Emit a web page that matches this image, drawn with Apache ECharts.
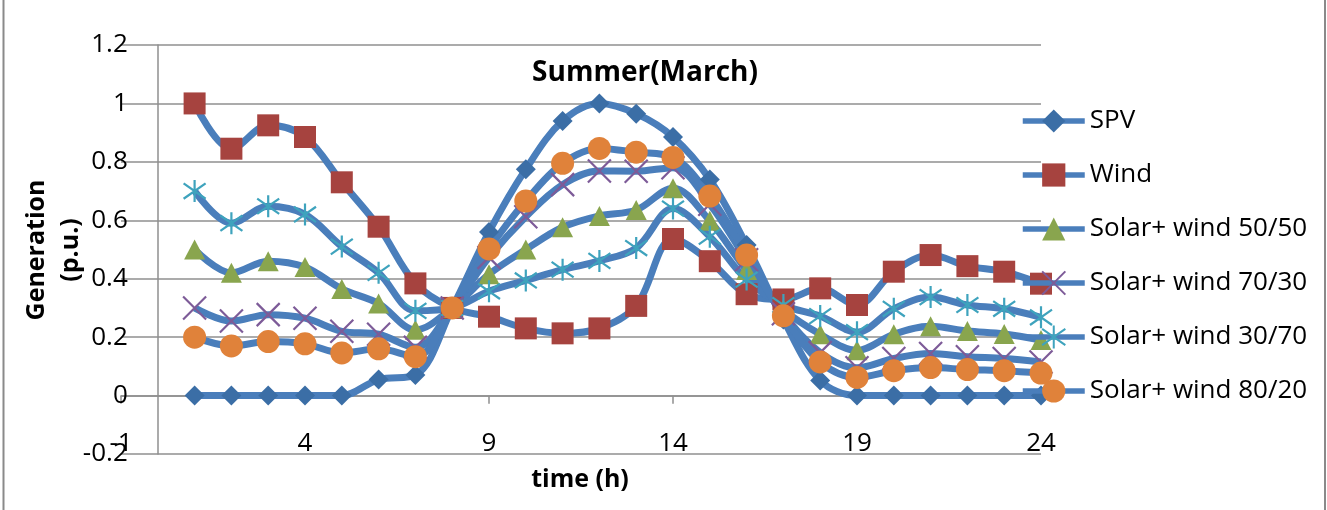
<!DOCTYPE html>
<html>
<head>
<meta charset="utf-8">
<script src="https://cdn.jsdelivr.net/npm/echarts@6/dist/echarts.min.js"></script>
<style>
  html, body { margin: 0; padding: 0; background: #fff; }
  #Chart { width: 1327px; height: 510px; }
</style>
</head>
<body>
<div id="Chart"></div>
<script>
// hours of the day
var hours = [1, 2, 3, 4, 5, 6, 7, 8, 9, 10, 11, 12, 13, 14, 15, 16, 17, 18, 19, 20, 21, 22, 23, 24];

// generation (p.u.)
var spv = [0, 0, 0, 0, 0, 0.055, 0.07, 0.3, 0.56, 0.775, 0.94, 1.0, 0.965, 0.885, 0.74, 0.515, 0.26, 0.052, 0, 0, 0, 0, 0, 0];
var wind = [1.0, 0.845, 0.925, 0.885, 0.73, 0.578, 0.384, 0.3, 0.27, 0.23, 0.213, 0.23, 0.307, 0.536, 0.46, 0.347, 0.329, 0.367, 0.31, 0.424, 0.481, 0.443, 0.424, 0.383];
var mix5050 = [0.5, 0.42, 0.46, 0.44, 0.365, 0.315, 0.225, 0.3, 0.415, 0.5, 0.576, 0.615, 0.635, 0.71, 0.598, 0.43, 0.295, 0.21, 0.155, 0.21, 0.237, 0.221, 0.211, 0.19];
var mix7030 = [0.3, 0.255, 0.277, 0.265, 0.22, 0.21, 0.165, 0.3, 0.473, 0.612, 0.722, 0.769, 0.768, 0.78, 0.655, 0.465, 0.28, 0.147, 0.095, 0.127, 0.144, 0.133, 0.127, 0.115];
var mix3070 = [0.7, 0.59, 0.648, 0.62, 0.51, 0.42, 0.29, 0.3, 0.357, 0.394, 0.431, 0.461, 0.505, 0.64, 0.544, 0.397, 0.31, 0.272, 0.217, 0.297, 0.337, 0.31, 0.297, 0.268];
var mix8020 = [0.2, 0.17, 0.185, 0.177, 0.146, 0.16, 0.133, 0.3, 0.502, 0.666, 0.795, 0.846, 0.833, 0.815, 0.683, 0.481, 0.273, 0.115, 0.062, 0.085, 0.096, 0.089, 0.085, 0.077];

var seriesNames = ['SPV', 'Wind', 'Solar+ wind 50/50', 'Solar+ wind 70/30', 'Solar+ wind 30/70', 'Solar+ wind 80/20'];

var font = '"Open Sans", Lato, sans-serif';
var gridColor = '#8f8f8f';
var lineColor = '#4a7ebb';

var Chart = function () {
    var myChart = echarts.init(document.getElementById('Chart'));

    // pair hours with values for the value-type x axis
    function pts(arr) {
        return hours.map(function (h, i) { return [h, arr[i]]; });
    }

    function line(name, arr, symbol, size, itemStyle) {
        return {
            name: name,
            type: 'line',
            data: pts(arr),
            smooth: 0.35,
            symbol: symbol,
            symbolSize: size,
            showAllSymbol: true,
            lineStyle: { width: 7, color: lineColor },
            itemStyle: itemStyle,
            emphasis: { disabled: true }
        };
    }

    var option = {
        animation: false,
        textStyle: { fontFamily: font },
        grid: {
            left: 121,
            right: 286,
            top: 45,
            bottom: 56
        },
        legend: {
            orient: 'vertical',
            left: 1015,
            top: 103,
            itemWidth: 62,
            itemHeight: 29,
            itemGap: 28,
            lineStyle: { width: 5.5, color: lineColor },
            textStyle: { fontFamily: font, fontSize: 26, color: '#000' },
            data: seriesNames
        },
        xAxis: {
            type: 'value',
            min: -1,
            max: 24,
            interval: 5,
            offset: -58.3, // axis sits on y = 0
            axisLine: { onZero: false, lineStyle: { color: gridColor, width: 1.5 } },
            axisTick: { show: true, length: 8, lineStyle: { color: gridColor, width: 1.5 } },
            axisLabel: {
                color: '#000',
                fontSize: 26,
                fontFamily: font,
                margin: 48,
                verticalAlign: 'middle'
            },
            splitLine: { show: false }
        },
        yAxis: {
            type: 'value',
            min: -0.2,
            max: 1.2,
            interval: 0.2,
            offset: -36.8, // axis sits on x = 0
            axisLine: { show: true, onZero: false, lineStyle: { color: gridColor, width: 1.5 } },
            axisTick: { show: false },
            axisLabel: { color: '#000', fontSize: 26, fontFamily: font, margin: 30 },
            splitLine: { lineStyle: { color: gridColor, width: 1.5 } }
        },
        graphic: [
            {
                type: 'text', x: 645, y: 73,
                style: { text: 'Summer(March)', font: 'bold 28px ' + font, fill: '#000', align: 'center', verticalAlign: 'middle' }
            },
            {
                type: 'text', x: 580, y: 480,
                style: { text: 'time (h)', font: 'bold 25px ' + font, fill: '#000', align: 'center', verticalAlign: 'middle' }
            },
            {
                type: 'text', x: 54, y: 250, rotation: Math.PI / 2,
                style: { text: 'Generation\n(p.u.)', font: 'bold 25px ' + font, lineHeight: 34, fill: '#000', align: 'center', verticalAlign: 'middle' }
            },
            {
                type: 'line', shape: { x1: 3.5, y1: 0, x2: 3.5, y2: 510 },
                style: { stroke: '#8a8a8a', lineWidth: 2 }
            },
            {
                type: 'line', shape: { x1: 1325, y1: 0, x2: 1325, y2: 510 },
                style: { stroke: '#8a8a8a', lineWidth: 2 }
            }
        ],
        series: [
            line('SPV', spv, 'diamond', 20, { color: '#3b6ea6' }),
            line('Wind', wind, 'rect', 22, { color: '#a6433f' }),
            line('Solar+ wind 50/50', mix5050, 'triangle', [21, 20], { color: '#89a54e' }),
            line('Solar+ wind 70/30', mix7030, 'path://M0,0L20,20M20,0L0,20', 23,
                { color: 'rgba(0,0,0,0)', borderColor: '#7d5b98', borderWidth: 2.2 }),
            line('Solar+ wind 30/70', mix3070, 'path://M10,0L10,20M0,3L20,17M20,3L0,17', 22,
                { color: 'rgba(0,0,0,0)', borderColor: '#3ea3bd', borderWidth: 2.2 }),
            line('Solar+ wind 80/20', mix8020, 'circle', 23, { color: '#e0823a' })
        ]
    };
    myChart.setOption(option);
};

Chart();
</script>
</body>
</html>
